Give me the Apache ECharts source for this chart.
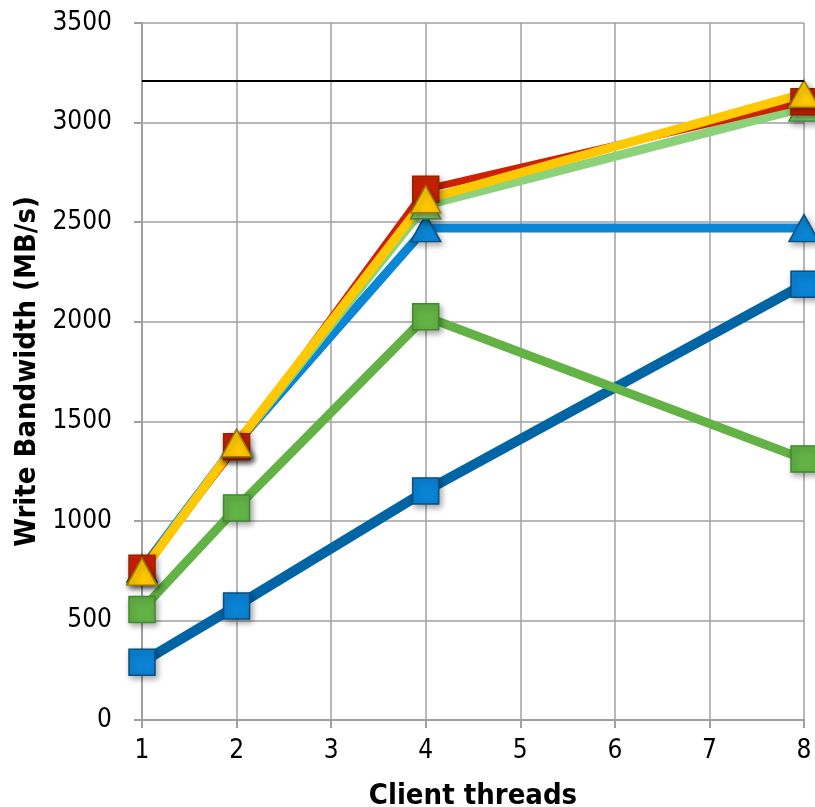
<!DOCTYPE html>
<html>
<head>
<meta charset="utf-8">
<script src="https://cdn.jsdelivr.net/npm/echarts@6/dist/echarts.min.js"></script>
<style>
html,body{margin:0;padding:0;background:#fff}
#main{width:815px;height:807px}
</style>
</head>
<body>
<div id="main"></div>
<script>
// client threads and bandwidth values (MB/s)
const threads = [1, 2, 4, 8]
const seriesA = [290, 573, 1150, 2188]   // dark blue, squares
const seriesB = [555, 1065, 2025, 1310]  // green, squares
const seriesC = [760, 1390, 2470, 2470]  // blue, triangles
const seriesD = [750, 1385, 2585, 3075]  // light green, triangles
const seriesE = [762, 1372, 2665, 3105]  // red, squares
const seriesF = [745, 1390, 2615, 3145]  // yellow, triangles
const limitLine = 3210
const yTicks = [0, 3500, 500]

const font = '"DejaVu Sans Condensed", "DejaVu Sans", sans-serif'
const shadow = { shadowBlur: 6, shadowColor: 'rgba(0,0,0,0.35)', shadowOffsetX: 2, shadowOffsetY: 3 }

function mk(name, vals, lineColor, fill, border, symbol, width) {
  return {
    name: name,
    type: 'line',
    data: threads.map((t, i) => [t, vals[i]]),
    symbol: symbol,
    symbolSize: symbol === 'rect' ? 26 : [30, 27],
    lineStyle: { color: lineColor, width: width },
    itemStyle: Object.assign({ color: fill, borderColor: border, borderWidth: 1.5 }, shadow),
    emphasis: { disabled: true },
    z: 2
  }
}

const chart = echarts.init(document.getElementById('main'))
const series = [
  mk('A', seriesA, '#0065a4', '#0a83d4', '#0b4e80', 'rect', 10),
  mk('B', seriesB, '#63b246', '#63b246', '#3e8a2c', 'rect', 9),
  mk('C', seriesC, '#0a86d6', '#0a86d6', '#0b4e80', 'triangle', 9),
  mk('D', seriesD, '#8dd27a', '#8dd27a', '#4c8c3a', 'triangle', 9),
  mk('E', seriesE, '#cc2200', '#cc2200', '#992000', 'rect', 7),
  mk('F', seriesF, '#ffc800', '#ffc800', '#9a7d00', 'triangle', 9)
]
series[0].markLine = {
  silent: true,
  symbol: 'none',
  label: { show: false },
  lineStyle: { color: '#000', width: 2, type: 'solid' },
  data: [{ yAxis: limitLine }]
}

const option = {
  animation: false,
  grid: { left: 142, right: 11, top: 23, bottom: 87, containLabel: false, outerBoundsMode: 'none' },
  xAxis: {
    type: 'value',
    min: 1,
    max: 8,
    interval: 1,
    name: 'Client threads',
    nameLocation: 'middle',
    nameGap: 62,
    nameTextStyle: { fontFamily: font, fontWeight: 'bold', fontSize: 29, color: '#000' },
    axisLine: { show: true, lineStyle: { color: '#a0a0a0', width: 2 } },
    axisTick: { show: true, length: 8, lineStyle: { color: '#a0a0a0', width: 2 } },
    axisLabel: { fontFamily: font, fontSize: 26, color: '#000', margin: 18 },
    splitLine: { show: true, lineStyle: { color: '#a0a0a0', width: 1.5 } }
  },
  yAxis: {
    type: 'value',
    min: yTicks[0],
    max: yTicks[1],
    interval: yTicks[2],
    name: 'Write Bandwidth (MB/s)',
    nameLocation: 'middle',
    nameGap: 98,
    nameTextStyle: { fontFamily: font, fontWeight: 'bold', fontSize: 29, color: '#000' },
    axisLine: { show: true, lineStyle: { color: '#a0a0a0', width: 2 } },
    axisTick: { show: true, length: 8, lineStyle: { color: '#a0a0a0', width: 2 } },
    axisLabel: { fontFamily: font, fontSize: 26, color: '#000', margin: 30, formatter: v => String(v) },
    splitLine: { show: true, lineStyle: { color: '#a0a0a0', width: 1.5 } }
  },
  series: series
}
chart.setOption(option)
</script>
</body>
</html>
